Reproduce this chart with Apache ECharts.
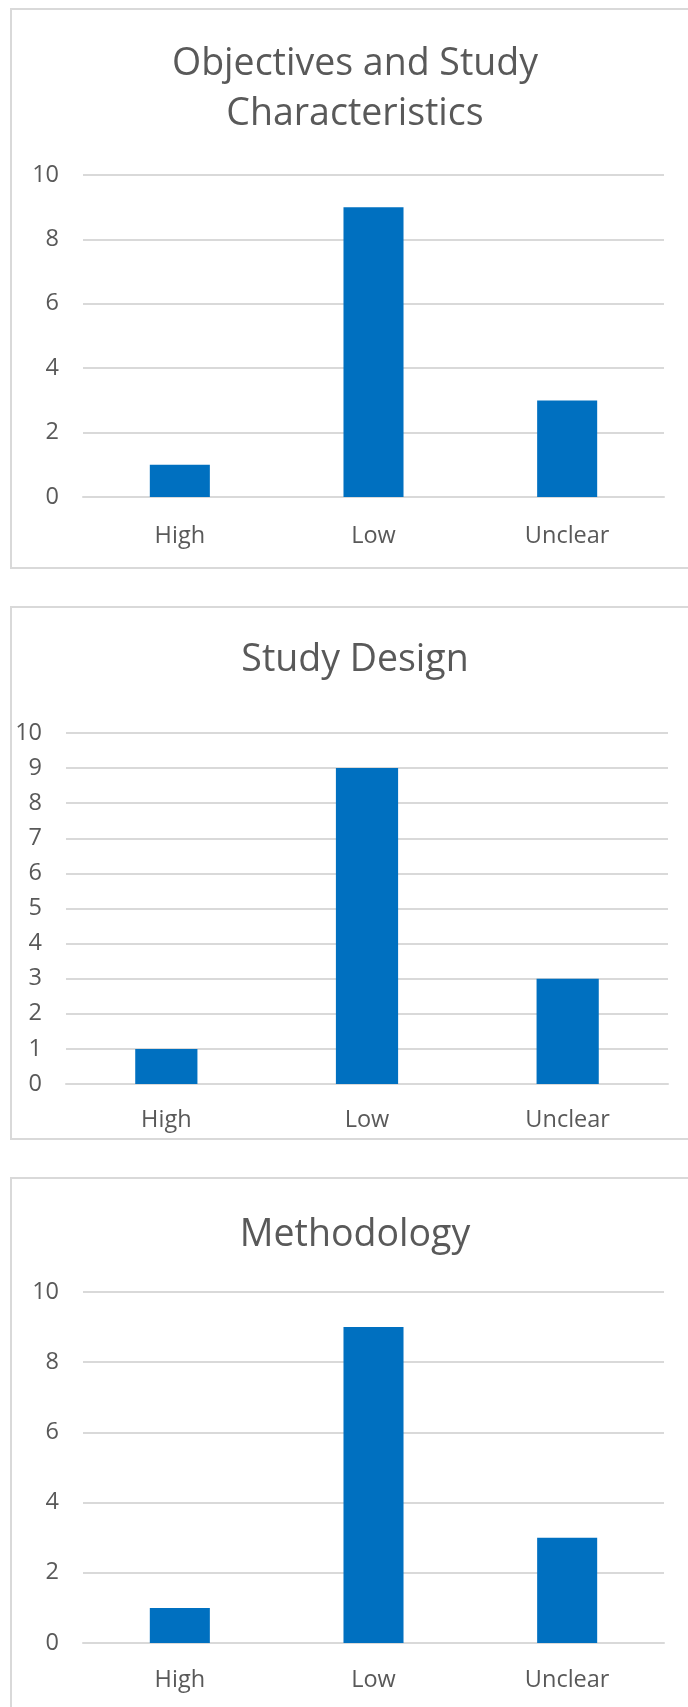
<!DOCTYPE html>
<html>
<head>
<meta charset="utf-8">
<script src="https://cdn.jsdelivr.net/npm/echarts@6/dist/echarts.min.js"></script>
<style>
  html, body { margin: 0; padding: 0; background: #fff; overflow: hidden; }
  #chart { width: 688px; height: 1707px; }
</style>
</head>
<body>
<div id="chart"></div>
<script>
  // 三个柱状图：风险等级
  const categories = ['High', 'Low', 'Unclear'];
  const objectivesValues = [1, 9, 3];
  const designValues = [1, 9, 3];
  const methodologyValues = [1, 9, 3];
  const titles = ['Objectives and Study\nCharacteristics', 'Study Design', 'Methodology'];
  const yMax = 10;
  const yIntervals = [2, 1, 2];

  const textColor = '#595959';
  const gridColor = '#d9d9d9';
  const barColor = '#0070C0';
  const font = '"Open Sans", sans-serif';

  // 每个图表的位置（像素）
  const grids = [
    { left: 83, right: 24, top: 175, height: 322 },
    { left: 66, right: 20, top: 733, height: 351 },
    { left: 83, right: 24, top: 1292, height: 351 }
  ];
  const titleTops = [39, 635, 1210];
  const xLabelMargins = [27, 24, 25];
  const boxes = [
    { y: 9, height: 559 },
    { y: 607, height: 532 },
    { y: 1178, height: 600 }
  ];
  const seriesData = [objectivesValues, designValues, methodologyValues];

  let myChart = echarts.init(document.getElementById('chart'));

  let options = {
    backgroundColor: '#fff',
    animation: false,
    graphic: boxes.map(b => ({
      type: 'rect',
      shape: { x: 11, y: b.y, width: 720, height: b.height },
      style: { fill: 'none', stroke: gridColor, lineWidth: 2 },
      silent: true
    })),
    title: titles.map((t, i) => ({
      text: t,
      left: 355,
      top: titleTops[i],
      textAlign: 'center',
      padding: 0,
      textStyle: {
        color: textColor,
        fontFamily: font,
        fontWeight: 'normal',
        fontSize: 37.5,
        lineHeight: 50
      }
    })),
    grid: grids,
    xAxis: grids.map((g, i) => ({
      type: 'category',
      gridIndex: i,
      data: categories,
      axisLine: { show: true, lineStyle: { color: gridColor, width: 2 } },
      axisTick: { show: false },
      axisLabel: {
        color: textColor,
        fontFamily: font,
        fontSize: 23.5,
        margin: xLabelMargins[i]
      }
    })),
    yAxis: grids.map((g, i) => ({
      type: 'value',
      gridIndex: i,
      min: 0,
      max: yMax,
      interval: yIntervals[i],
      axisLine: { show: false },
      axisTick: { show: false },
      axisLabel: {
        color: textColor,
        fontFamily: font,
        fontSize: 23.5,
        margin: 24
      },
      splitLine: { show: true, lineStyle: { color: gridColor, width: 2 } }
    })),
    series: seriesData.map((d, i) => ({
      type: 'bar',
      xAxisIndex: i,
      yAxisIndex: i,
      data: d,
      barWidth: '31%',
      itemStyle: { color: barColor },
      z: 3
    }))
  };

  myChart.setOption(options);
</script>
</body>
</html>
